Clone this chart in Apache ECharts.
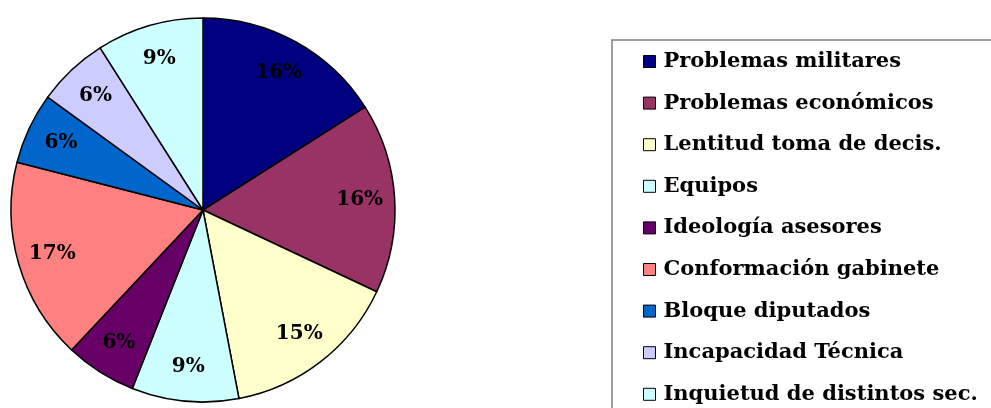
<!DOCTYPE html>
<html>
<head>
<meta charset="utf-8">
<script src="https://cdn.jsdelivr.net/npm/echarts@6/dist/echarts.min.js"></script>
<style>
  html, body { margin: 0; padding: 0; background: #fff; }
  #main { width: 991px; height: 408px; }
</style>
</head>
<body>
<div id="main"></div>
<script>
// categorias y valores (porcentajes)
var categories = [
    "Problemas militares",
    "Problemas económicos",
    "Lentitud toma de decis.",
    "Equipos",
    "Ideología asesores",
    "Conformación gabinete",
    "Bloque diputados",
    "Incapacidad Técnica",
    "Inquietud de distintos sec."
];
var values = [16, 16, 15, 9, 6, 17, 6, 6, 9];
var colors = ["#000080", "#993366", "#FFFFCC", "#CCFFFF", "#660066", "#FF8080", "#0066CC", "#CCCCFF", "#CCFFFF"];

(function () {
    var myChart = echarts.init(document.getElementById("main"));
    var pieData = categories.map(function (name, i) {
        return { name: name, value: values[i] };
    });
    var serifFont = "'DejaVu Serif', 'Liberation Serif', serif";
    var option = {
        color: colors,
        animation: false,
        // marco de la leyenda
        graphic: [
            {
                type: "rect",
                shape: { x: 612, y: 40, width: 420, height: 420 },
                style: { fill: "none", stroke: "#808080", lineWidth: 1.5 },
                z: 0
            }
        ],
        legend: {
            orient: "vertical",
            left: 643,
            top: 48,
            height: 600,
            padding: 0,
            itemWidth: 12,
            itemHeight: 12,
            itemGap: 14.6,
            icon: "rect",
            data: categories,
            itemStyle: { borderColor: "#000", borderWidth: 1 },
            textStyle: {
                fontFamily: serifFont,
                fontWeight: "bold",
                fontSize: 21,
                color: "#000",
                lineHeight: 27,
                padding: [0, 0, 0, 3]
            }
        },
        series: [
            {
                type: "pie",
                center: [203, 210],
                radius: [0, 192],
                startAngle: 90,
                clockwise: true,
                silent: true,
                data: pieData,
                itemStyle: { borderColor: "#000", borderWidth: 1.5 },
                label: { show: false },
                labelLine: { show: false }
            },
            {
                // serie transparente solo para ubicar las etiquetas
                type: "pie",
                center: [203, 210],
                radius: [116, 192],
                startAngle: 90,
                clockwise: true,
                silent: true,
                legendHoverLink: false,
                data: pieData,
                itemStyle: { color: "rgba(0,0,0,0)", borderWidth: 0 },
                label: {
                    show: true,
                    position: "inside",
                    formatter: "{c}%",
                    color: "#000",
                    fontFamily: serifFont,
                    fontWeight: "bold",
                    fontSize: 20
                },
                labelLine: { show: false }
            }
        ]
    };
    myChart.setOption(option);
})();
</script>
</body>
</html>
